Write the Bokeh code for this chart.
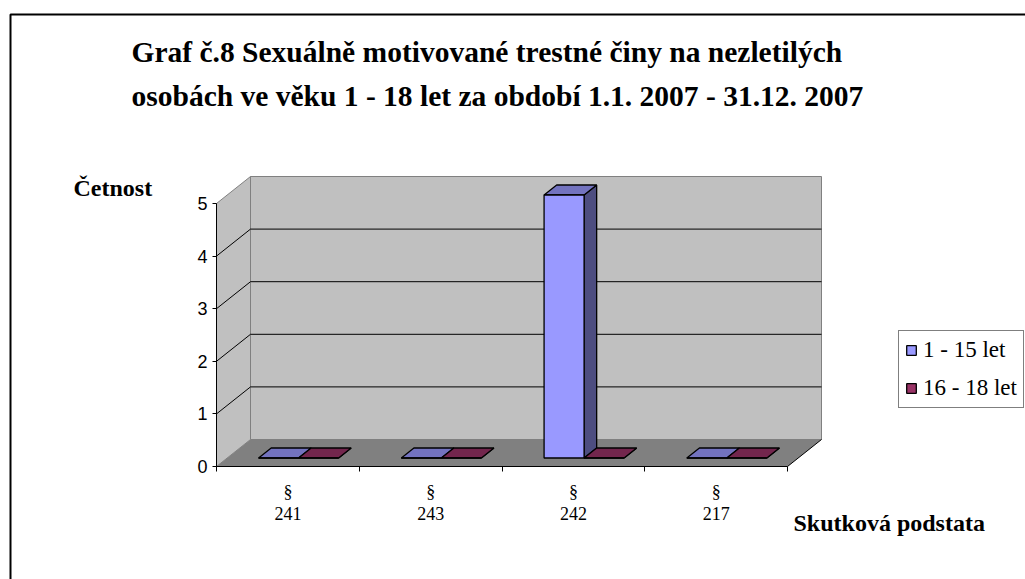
from bokeh.plotting import figure
from bokeh.models import (Range1d, FixedTicker, Label, Legend, LegendItem,
                          PolyAnnotation)
from bokeh.embed import file_html
from bokeh.resources import INLINE

# ---------------- data ----------------
categories = ["§\n241", "§\n243", "§\n242", "§\n217"]
series_names = ["1 - 15 let", "16 - 18 let"]
values_1_15 = [0, 0, 5, 0]
values_16_18 = [0, 0, 0, 0]
y_ticks = [0, 1, 2, 3, 4, 5]

title_lines = ["Graf č.8 Sexuálně motivované trestné činy na nezletilých",
               "osobách ve věku 1 - 18 let za období 1.1. 2007 - 31.12. 2007"]
y_title = "Četnost"
x_title = "Skutková podstata"

# ---------------- layout (pixels) ----------------
W, H = 1025, 579
ORIGIN_X, ORIGIN_Y = 216, 466   # pixel position of (category 0, value 0)
PX_X = 142.75   # px per category
PX_Y = 52.6     # px per unit value
DEPTH_PX_X, DEPTH_PX_Y = 34, 27

DX = DEPTH_PX_X / PX_X
DY = DEPTH_PX_Y / PX_Y
NCAT = len(categories)
YMAX = max(y_ticks)
F0 = 8.5 / 27.0      # bar front offset fraction of depth
FD = 10.0 / 27.0     # bar depth fraction
BW = 40.0 / PX_X     # bar width in category units

p = figure(width=W, height=H, output_backend="svg", toolbar_location=None,
           x_range=Range1d(-ORIGIN_X / PX_X, (W - ORIGIN_X) / PX_X),
           y_range=Range1d(-(H - ORIGIN_Y) / PX_Y, ORIGIN_Y / PX_Y),
           min_border=0, min_border_left=0, min_border_right=0,
           min_border_top=0, min_border_bottom=0,
           background_fill_color="white", border_fill_color="white")
p.outline_line_color = None
p.xgrid.grid_line_color = None
p.ygrid.grid_line_color = None

WALL = "#C0C0C0"
WALL_EDGE = "#808080"
FLOOR = "#808080"

# back wall
p.patch([DX, NCAT + DX, NCAT + DX, DX], [DY, DY, YMAX + DY, YMAX + DY],
        fill_color=WALL, line_color=WALL_EDGE, line_width=1)
# left side wall
p.patch([0, DX, DX, 0], [0, DY, YMAX + DY, YMAX],
        fill_color=WALL, line_color=WALL_EDGE, line_width=1)
# floor
p.patch([0, NCAT, NCAT + DX, DX], [0, 0, DY, DY],
        fill_color=FLOOR, line_color=None)
p.segment(x0=[NCAT], y0=[0], x1=[NCAT + DX], y1=[DY], line_color="black", line_width=1)

# gridlines on back wall and side wall
gl = [t for t in y_ticks if 0 < t < YMAX]
p.segment(x0=[DX] * len(gl), y0=[t + DY for t in gl],
          x1=[NCAT + DX] * len(gl), y1=[t + DY for t in gl],
          line_color="black", line_width=1)
p.segment(x0=[0] * len(gl), y0=gl, x1=[DX] * len(gl), y1=[t + DY for t in gl],
          line_color="black", line_width=1)

# ---------------- 3D bars ----------------
def faces(vals, k):
    a = F0 * DY
    ox, oy = FD * DX, FD * DY
    front_x, front_y, top_x, top_y, side_x, side_y = [], [], [], [], [], []
    for i, v in enumerate(vals):
        c = i + 0.5 + F0 * DX
        x0 = c - BW + k * BW
        x1 = x0 + BW
        front_x.append([x0, x1, x1, x0]); front_y.append([a, a, a + v, a + v])
        top_x.append([x0, x1, x1 + ox, x0 + ox]); top_y.append([a + v, a + v, a + v + oy, a + v + oy])
        side_x.append([x1, x1 + ox, x1 + ox, x1]); side_y.append([a, a + oy, a + v + oy, a + v])
    return (front_x, front_y), (top_x, top_y), (side_x, side_y)

colors = [("#9999FF", "#7373BF", "#4D4D80"), ("#993366", "#73264D", "#4D1A33")]
front_renderers = []
for k, vals in enumerate([values_1_15, values_16_18]):
    (fx, fy), (tx, ty), (sx_, sy_) = faces(vals, k)
    fc, tc, sc = colors[k]
    p.patches(sx_, sy_, fill_color=sc, line_color="black", line_width=1.3)
    p.patches(tx, ty, fill_color=tc, line_color="black", line_width=1.3)
    fr = p.patches(fx, fy, fill_color=fc, line_color="black", line_width=1.3)
    front_renderers.append(fr)

# ---------------- axes (placed inside the frame) ----------------
ya = p.yaxis[0]
ya.fixed_location = 0
ya.ticker = FixedTicker(ticks=y_ticks)
ya.bounds = (0, YMAX)
ya.axis_line_color = "black"
ya.major_tick_in = 0
ya.major_tick_out = 4
ya.minor_tick_line_color = None
ya.major_label_standoff = 5
ya.major_label_text_font = "Liberation Sans"
ya.major_label_text_font_size = "18px"
ya.major_label_text_color = "black"

xa = p.xaxis[0]
xa.fixed_location = 0
xa.ticker = FixedTicker(ticks=[i + 0.5 for i in range(NCAT)],
                        minor_ticks=list(range(NCAT + 1)))
xa.major_label_overrides = {i + 0.5: categories[i] for i in range(NCAT)}
xa.bounds = (0, NCAT)
xa.axis_line_color = "black"
xa.major_tick_line_color = None
xa.minor_tick_in = 0
xa.minor_tick_out = 5
xa.minor_tick_line_color = "black"
xa.major_label_standoff = 9
xa.major_label_text_font = "Liberation Serif"
xa.major_label_text_font_size = "18px"
xa.major_label_text_line_height = 1.1
xa.major_label_text_color = "black"

# ---------------- texts ----------------
def sy(py):
    return H - py

for line, base in zip(title_lines, [51, 95]):
    p.add_layout(Label(x=131, y=sy(base), x_units="screen", y_units="screen",
                       text=line, text_font="Liberation Serif", text_font_style="bold",
                       text_font_size="29.5px", text_baseline="alphabetic", text_color="black"))

p.add_layout(Label(x=73, y=sy(187), x_units="screen", y_units="screen",
                   text=y_title, text_font="Liberation Serif", text_font_style="bold",
                   text_font_size="24px", text_baseline="alphabetic", text_color="black"))
p.add_layout(Label(x=793, y=sy(522), x_units="screen", y_units="screen",
                   text=x_title, text_font="Liberation Serif", text_font_style="bold",
                   text_font_size="24px", text_baseline="alphabetic", text_color="black"))

# outer border (left & top visible)
p.add_layout(PolyAnnotation(xs=[10, 10, 3000, 3000], ys=[-500, sy(14), sy(14), -500],
                            xs_units="screen", ys_units="screen",
                            fill_color=None, fill_alpha=0,
                            line_color="black", line_alpha=1, line_width=2))

# legend
legend = Legend(items=[LegendItem(label=series_names[k], renderers=[front_renderers[k]])
                       for k in range(2)],
                location=(898, sy(408)), orientation="vertical",
                label_text_font="Liberation Serif", label_text_font_size="23px",
                label_text_color="black",
                glyph_width=12, glyph_height=12, label_standoff=6,
                padding=6, spacing=12, margin=0,
                border_line_color="black", border_line_width=1,
                background_fill_color="white", background_fill_alpha=1)
p.add_layout(legend, "center")

open("out.html", "w").write(file_html(p, INLINE))
